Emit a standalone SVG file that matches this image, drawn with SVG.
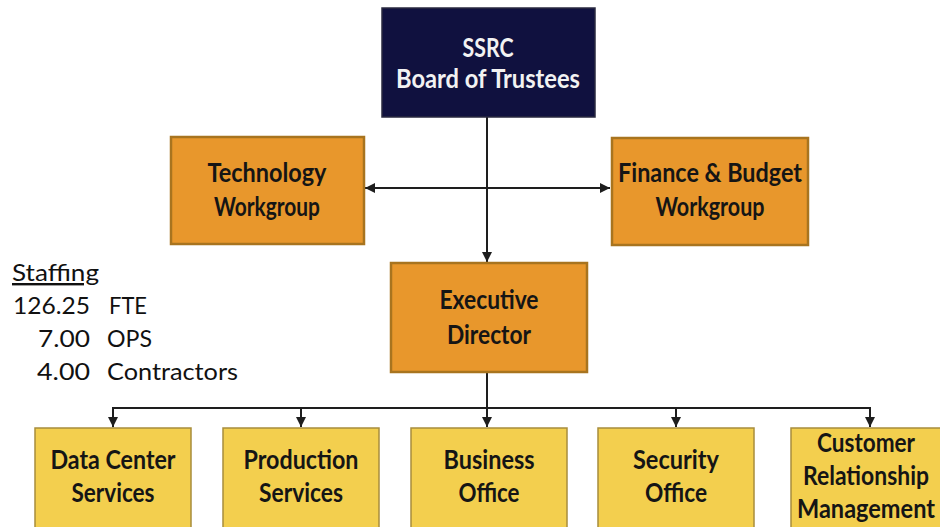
<svg xmlns="http://www.w3.org/2000/svg" width="940" height="527" viewBox="0 0 940 527">
  <defs>
    <marker id="arrow" viewBox="0 0 10 10" refX="10" refY="5" markerWidth="10" markerHeight="10" markerUnits="userSpaceOnUse" orient="auto">
      <path d="M0,0 L10,5 L0,10 Z" fill="#1e1e1e"/>
    </marker>
    <style>
      .board { fill: #10113f; stroke: #2a2a40; stroke-width: 1.5; }
      .group { fill: #e8972c; stroke: #a8741f; stroke-width: 2.5; }
      .unit { fill: #f3cf4e; stroke: #a88d3c; stroke-width: 1.5; }
      .lbl { font-family: Lato, "Open Sans", sans-serif; font-weight: bold; font-size: 26px; text-anchor: middle; fill: #151515; }
      .lbl-w { fill: #f2f2f2; }
      .staff { font-family: Lato, "Open Sans", sans-serif; font-size: 24px; fill: #111111; }
      .conn { fill: none; stroke: #1e1e1e; stroke-width: 2; }
    </style>
  </defs>
  <rect width="940" height="527" fill="#ffffff"/>

  <!-- connectors -->
  <g id="connectors">
    <line class="conn" x1="487" y1="117" x2="487" y2="262" marker-end="url(#arrow)"/>
    <line class="conn" x1="487" y1="188" x2="365" y2="188" marker-end="url(#arrow)"/>
    <line class="conn" x1="487" y1="188" x2="610" y2="188" marker-end="url(#arrow)"/>
    <line class="conn" x1="487" y1="372" x2="487" y2="427" marker-end="url(#arrow)"/>
    <polyline class="conn" points="113,427 113,408 870,408 870,427" marker-start="url(#arrow)" marker-end="url(#arrow)"/>
    <line class="conn" x1="113" y1="408" x2="113" y2="427" marker-end="url(#arrow)"/>
    <line class="conn" x1="301" y1="408" x2="301" y2="427" marker-end="url(#arrow)"/>
    <line class="conn" x1="676" y1="408" x2="676" y2="427" marker-end="url(#arrow)"/>
  </g>

  <g id="board">
    <rect class="board" x="382" y="8" width="213" height="109"/>
    <text class="lbl lbl-w" x="488" y="57" textLength="51" lengthAdjust="spacingAndGlyphs">SSRC</text>
    <text class="lbl lbl-w" x="488" y="88" textLength="184" lengthAdjust="spacingAndGlyphs">Board of Trustees</text>
  </g>

  <g id="technology">
    <rect class="group" x="171" y="137" width="193" height="107"/>
    <text class="lbl" x="267" y="182" textLength="119" lengthAdjust="spacingAndGlyphs">Technology</text>
    <text class="lbl" x="267" y="216" textLength="106" lengthAdjust="spacingAndGlyphs">Workgroup</text>
  </g>

  <g id="finance">
    <rect class="group" x="612" y="138" width="196" height="107"/>
    <text class="lbl" x="710" y="182" textLength="184" lengthAdjust="spacingAndGlyphs">Finance &amp; Budget</text>
    <text class="lbl" x="710" y="216" textLength="109" lengthAdjust="spacingAndGlyphs">Workgroup</text>
  </g>

  <g id="executive">
    <rect class="group" x="391" y="263" width="196" height="109"/>
    <text class="lbl" x="489" y="309" textLength="99" lengthAdjust="spacingAndGlyphs">Executive</text>
    <text class="lbl" x="489" y="344" textLength="84" lengthAdjust="spacingAndGlyphs">Director</text>
  </g>

  <g id="staffing">
    <text class="staff" x="12" y="281" textLength="87" lengthAdjust="spacingAndGlyphs" text-decoration="underline">Staffing</text>
    <text class="staff" x="90" y="314" text-anchor="end" textLength="77" lengthAdjust="spacingAndGlyphs">126.25</text>
    <text class="staff" x="109" y="314" textLength="38" lengthAdjust="spacingAndGlyphs">FTE</text>
    <text class="staff" x="90" y="347" text-anchor="end" textLength="52" lengthAdjust="spacingAndGlyphs">7.00</text>
    <text class="staff" x="107" y="347" textLength="45" lengthAdjust="spacingAndGlyphs">OPS</text>
    <text class="staff" x="90" y="380" text-anchor="end" textLength="53" lengthAdjust="spacingAndGlyphs">4.00</text>
    <text class="staff" x="107" y="380" textLength="131" lengthAdjust="spacingAndGlyphs">Contractors</text>
  </g>

  <g id="data-center">
    <rect class="unit" x="35" y="428" width="156" height="112"/>
    <text class="lbl" x="113" y="469" textLength="125" lengthAdjust="spacingAndGlyphs">Data Center</text>
    <text class="lbl" x="113" y="502" textLength="83" lengthAdjust="spacingAndGlyphs">Services</text>
  </g>

  <g id="production">
    <rect class="unit" x="223" y="428" width="156" height="112"/>
    <text class="lbl" x="301" y="469" textLength="115" lengthAdjust="spacingAndGlyphs">Production</text>
    <text class="lbl" x="301" y="502" textLength="84" lengthAdjust="spacingAndGlyphs">Services</text>
  </g>

  <g id="business">
    <rect class="unit" x="411" y="428" width="156" height="112"/>
    <text class="lbl" x="489" y="469" textLength="91" lengthAdjust="spacingAndGlyphs">Business</text>
    <text class="lbl" x="489" y="502" textLength="61" lengthAdjust="spacingAndGlyphs">Office</text>
  </g>

  <g id="security">
    <rect class="unit" x="598" y="428" width="156" height="112"/>
    <text class="lbl" x="676" y="469" textLength="86" lengthAdjust="spacingAndGlyphs">Security</text>
    <text class="lbl" x="676" y="502" textLength="62" lengthAdjust="spacingAndGlyphs">Office</text>
  </g>

  <g id="customer">
    <rect class="unit" x="791" y="428" width="156" height="112"/>
    <text class="lbl" x="866" y="452" textLength="98" lengthAdjust="spacingAndGlyphs">Customer</text>
    <text class="lbl" x="866" y="485" textLength="126" lengthAdjust="spacingAndGlyphs">Relationship</text>
    <text class="lbl" x="866" y="518" textLength="138" lengthAdjust="spacingAndGlyphs">Management</text>
  </g>
</svg>
